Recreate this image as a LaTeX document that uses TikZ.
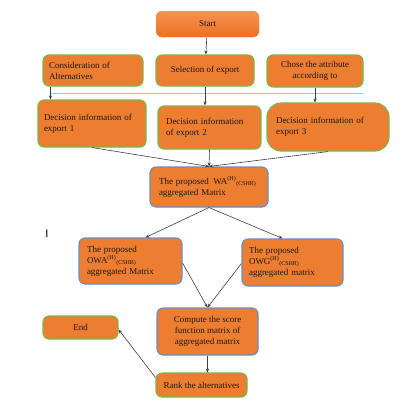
\documentclass[tikz,border=0pt]{standalone}
\usepackage{fontspec}
\setmainfont{Liberation Serif}
\newfontfamily\barfont{Liberation Sans}
\usetikzlibrary{arrows.meta,positioning,calc}
\definecolor{ink}{HTML}{1A1A1A}
\definecolor{boxfill}{HTML}{ED7D31}
\definecolor{startlight}{HTML}{F6934F}
\definecolor{startdark}{HTML}{EC7024}
\definecolor{leaf}{HTML}{7AB648}
\definecolor{steel}{HTML}{6A8EC4}
\definecolor{rule}{HTML}{9DC3E6}
\definecolor{wire}{HTML}{3F3F3F}
\tikzset{
  font=\fontsize{9}{11}\selectfont,
  >={Stealth[length=4pt,width=3.2pt]},
  base/.style={
    rounded corners=6pt, fill=boxfill, line width=1.1pt, text=ink,
    inner sep=4pt
  },
  greenbox/.style={base, draw=leaf},
  bluebox/.style={base, draw=steel},
  startbox/.style={base, top color=startlight, bottom color=startdark, draw=none},
  lefttext/.style={align=left},
  midtext/.style={align=center},
  flow/.style={->, line width=0.6pt, draw=wire},
  divider/.style={line width=1pt, draw=rule}
}

\begin{document}
\begin{tikzpicture}[x=1pt,y=-1pt]
  \useasboundingbox (0,0) rectangle (409,408);

  % start and inputs
  \node[startbox, midtext, minimum width=103pt, minimum height=26pt] (start) at (207.5,24) {Start};
  \node[greenbox, lefttext, text width=88pt, inner xsep=6pt, minimum height=31pt] (cons) at (93,70.5) {Consideration of\\Alternatives};
  \node[greenbox, midtext, minimum width=98pt, minimum height=31pt] (sel) at (205,70.5) {Selection of export};
  \node[greenbox, midtext, minimum width=96pt, minimum height=32pt] (chose) at (315,71) {Chose the attribute\\according to};

  \draw[divider] (51,93) -- (363,93);

  % decision information
  \node[greenbox, lefttext, text width=96pt, inner xsep=6pt, minimum height=47pt] (dec1) at (92,123.5) {Decision information of\\export 1};
  \node[greenbox, lefttext, text width=87pt, inner xsep=8pt, minimum height=43pt] (dec2) at (209.5,127.5) {Decision information\\of export 2};
  \node[greenbox, lefttext, rounded corners=14pt, text width=104pt, inner xsep=9pt, minimum height=48pt] (dec3) at (328,127) {Decision information of\\export 3};

  % aggregation
  \node[bluebox, lefttext, text width=100pt, inner xsep=9pt, minimum height=40pt] (wa) at (209,187) {The proposed \,WA\textsuperscript{(H)}\textsubscript{(CSHR)}\\aggregated Matrix};
  \node[bluebox, lefttext, text width=87pt, inner xsep=8pt, minimum height=46pt] (owa) at (130.5,261) {The proposed\\OWA\textsuperscript{(H)}\textsubscript{(CSHR)}\\aggregated Matrix};
  \node[bluebox, lefttext, text width=87pt, inner xsep=7pt, minimum height=47pt] (owg) at (292.5,262.5) {The proposed\\OWG\textsuperscript{(H)}\textsubscript{(CSHR)}\\aggregated matrix};
  \node[font=\barfont\fontsize{11}{11}\selectfont, inner sep=0pt] (caret) at (47,234) {I};

  % score and ranking
  \node[bluebox, midtext, minimum width=101pt, minimum height=47pt] (comp) at (207.5,331.5) {Compute the score\\function matrix of\\aggregated matrix};
  \node[greenbox, midtext, minimum width=91pt, minimum height=24pt] (rank) at (201.5,385) {Rank the alternatives};
  \node[greenbox, midtext, minimum width=75pt, minimum height=23pt] (end) at (80.5,327.5) {End};

  % edges
  \draw[flow] (start) -- (sel);
  \draw[flow] ([xshift=8pt]cons.south west) -- ([xshift=8pt]cons.south west |- dec1.north);
  \draw[flow] (sel.south) -- (sel.south |- dec2.north);
  \draw[flow] (chose.south) -- (chose.south |- dec3.north);
  \draw[flow] (dec1.south) -- (wa.north);
  \draw[flow] (dec2.south) -- (wa.north);
  \draw[flow] (dec3.south) -- (wa.north);
  \draw[flow] (wa.south) -- ([xshift=15pt]owa.north);
  \draw[flow] (wa.south) -- ([xshift=-10pt]owg.north);
  \draw[flow] ([yshift=-2pt]owa.east) -- (comp.north);
  \draw[flow] ([yshift=-1pt]owg.west) -- (comp.north);
  \draw[flow] (comp.south) -- (comp.south |- rank.north);
  \draw[flow] ([yshift=-5pt]rank.north west) -- ([yshift=-2pt]end.east);
\end{tikzpicture}
\end{document}
